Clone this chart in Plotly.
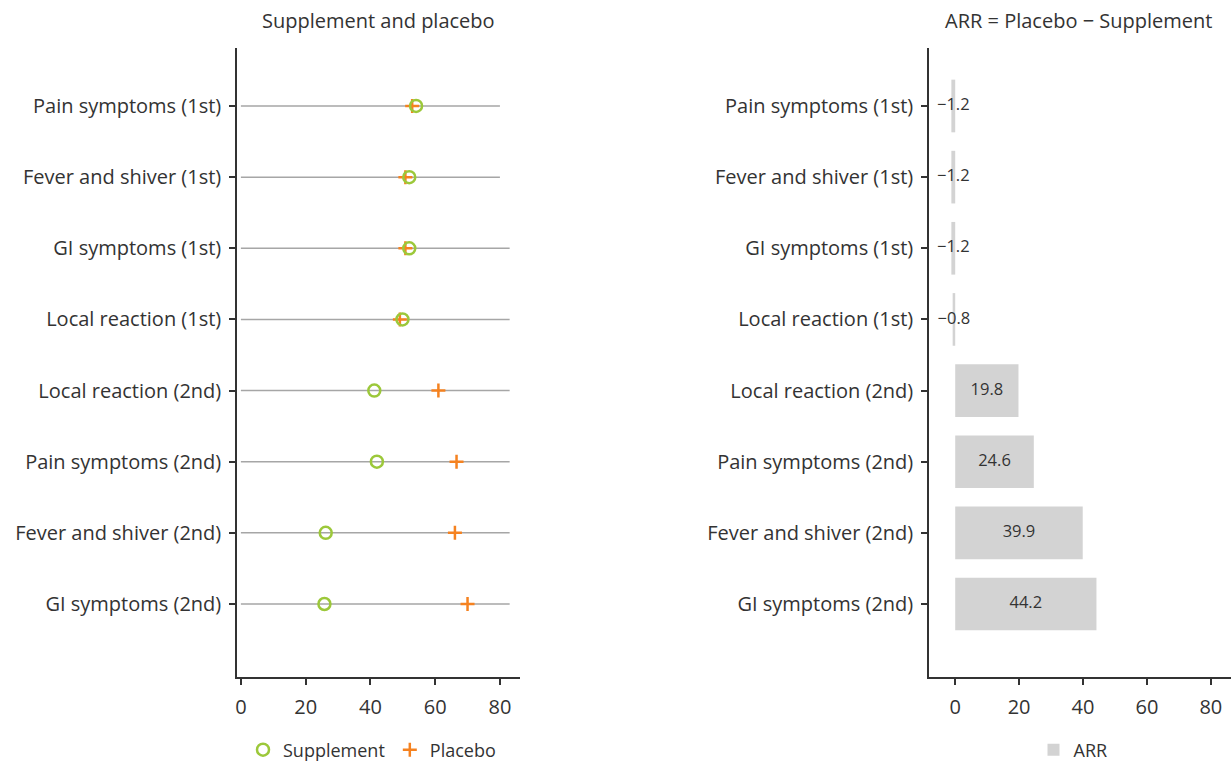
import plotly.graph_objects as go

categories = ["Pain symptoms (1st)", "Fever and shiver (1st)", "GI symptoms (1st)",
              "Local reaction (1st)", "Local reaction (2nd)", "Pain symptoms (2nd)",
              "Fever and shiver (2nd)", "GI symptoms (2nd)"]
supplement = [54.1, 52.0, 52.0, 49.9, 41.2, 42.0, 26.2, 25.8]
placebo = [52.9, 50.8, 50.8, 49.1, 61.0, 66.6, 66.1, 70.0]
line_start = [0, 0, 0, 0, 0, 0, 0, 0]
line_end = [80, 80, 83, 83, 83, 83, 83, 83]
arr = [-1.2, -1.2, -1.2, -0.8, 19.8, 24.6, 39.9, 44.2]
tick_vals = [0, 20, 40, 60, 80]

FONT = "Open Sans"
TXT = "#333333"

fig = go.Figure()

# gray range lines
lx, ly = [], []
for c, s, e in zip(categories, line_start, line_end):
    lx += [s, e, None]
    ly += [c, c, None]
fig.add_trace(go.Scatter(x=lx, y=ly, mode="lines", line=dict(color="#a6a6a6", width=1.5),
                         showlegend=False, hoverinfo="skip", xaxis="x", yaxis="y"))

fig.add_trace(go.Scatter(x=placebo, y=categories, mode="markers", name="Placebo",
                         marker=dict(symbol="cross-thin", size=10, color="#f58220",
                                     line=dict(color="#f58220", width=2.5)),
                         xaxis="x", yaxis="y", legend="legend"))
fig.add_trace(go.Scatter(x=supplement, y=categories, mode="markers", name="Supplement",
                         marker=dict(symbol="circle-open", size=12, color="#9cc83a",
                                     line=dict(color="#9cc83a", width=2.5)),
                         xaxis="x", yaxis="y", legend="legend"))

fig.add_trace(go.Bar(x=arr, y=categories, orientation="h", name="ARR",
                     marker=dict(color="#d3d3d3", line=dict(width=0)), width=0.74,
                     xaxis="x2", yaxis="y2", legend="legend2", hoverinfo="x+y"))
labels = [("\u2212" + f"{abs(v):.1f}") if v < 0 else f"{v:.1f}" for v in arr]
fig.add_trace(go.Scatter(x=[v / 2 for v in arr], y=categories, mode="text", text=labels,
                         textfont=dict(family=FONT, size=16.5, color=TXT),
                         showlegend=False, hoverinfo="skip", xaxis="x2", yaxis="y2"))

axis_common = dict(showline=True, linecolor="#333333", linewidth=1.5, showgrid=False,
                   zeroline=False, ticks="outside", ticklen=6, tickwidth=1.5,
                   tickcolor="#333333", tickfont=dict(family=FONT, size=20, color=TXT))

y_top, y_bot = 48, 677
H, W = 763, 1231
ydom = [(H - y_bot) / H, (H - y_top) / H]
yrange = [8.026, -0.815]

fig.update_layout(
    width=W, height=H, margin=dict(l=0, r=0, t=0, b=0, autoexpand=False),
    paper_bgcolor="white", plot_bgcolor="white",
    font=dict(family=FONT, color=TXT),
    xaxis=dict(domain=[237 / W, 520 / W], range=[-1.2, 86.2], tickvals=tick_vals,
               anchor="y", ticklabelstandoff=5, **axis_common),
    yaxis=dict(domain=ydom, type="category", categoryorder="array", categoryarray=categories,
               range=yrange, anchor="x", ticklabelstandoff=4, **axis_common),
    xaxis2=dict(domain=[929 / W, 1.0], range=[-8.2, 86.3], tickvals=tick_vals,
                anchor="y2", ticklabelstandoff=5, **axis_common),
    yaxis2=dict(domain=ydom, type="category", categoryorder="array", categoryarray=categories,
                range=yrange, anchor="x2", ticklabelstandoff=4, **axis_common),
    legend=dict(orientation="h", x=372 / W, xanchor="center", y=(H - 750) / H, yanchor="middle",
                font=dict(family=FONT, size=18, color=TXT), traceorder="reversed",
                itemwidth=30, bgcolor="rgba(0,0,0,0)"),
    legend2=dict(orientation="h", x=1073 / W, xanchor="center", y=(H - 750) / H, yanchor="middle",
                 font=dict(family=FONT, size=18, color=TXT), bgcolor="rgba(0,0,0,0)"),
    annotations=[
        dict(text="Supplement and placebo", x=378.5 / W, y=(H - 21) / H, xref="paper", yref="paper",
             xanchor="center", yanchor="middle", showarrow=False,
             font=dict(family=FONT, size=20, color=TXT)),
        dict(text="ARR = Placebo \u2212 Supplement", x=1078 / W, y=(H - 21) / H, xref="paper",
             yref="paper", xanchor="center", yanchor="middle", showarrow=False,
             font=dict(family=FONT, size=20, color=TXT)),
    ],
)

fig.write_html("out.html", config={"displayModeBar": False},
               post_script="document.body.style.margin='0';document.body.style.overflow='hidden';")
